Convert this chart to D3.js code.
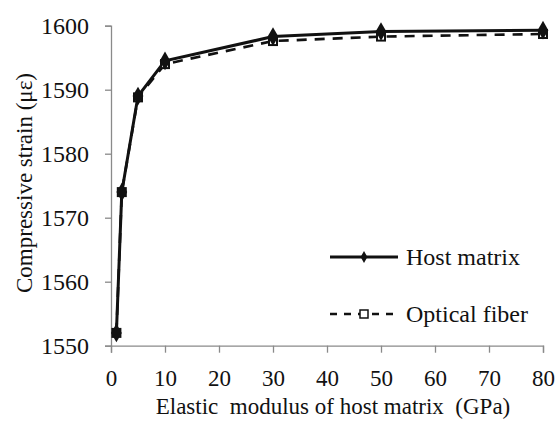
<!DOCTYPE html>
<html><head><meta charset="utf-8">
<script src="https://cdn.jsdelivr.net/npm/d3@7"></script>
<style>body{margin:0;background:#fff}svg{display:block}</style>
</head><body>
<svg id="c" width="556" height="422"></svg>
<script>
const xValues = [1, 2, 5, 10, 30, 50, 80];
const hostMatrix = [1552, 1574, 1589, 1594.5, 1598.3, 1599.1, 1599.3];
const opticalFiber = [1552, 1574, 1588.8, 1594, 1597.6, 1598.3, 1598.7];
const xTicks = [0, 10, 20, 30, 40, 50, 60, 70, 80];
const yTicks = [1550, 1560, 1570, 1580, 1590, 1600];
const seriesNames = ["Host matrix", "Optical fiber"];

const svg = d3.select("#c");
const x = d3.scaleLinear().domain([0, 80]).range([111, 543]);
const y = d3.scaleLinear().domain([1550, 1600]).range([345.7, 25.7]);
const axisColor = "#8a8a8a";

function styleText(sel, size) {
  sel.attr("font-family", "Liberation Serif").style("font-family", "'Liberation Serif'")
     .style("font-size", size + "px").attr("fill", "#111");
}

// y axis
const ya = svg.append("g").attr("transform", "translate(111,0)")
  .call(d3.axisLeft(y).tickValues(yTicks).tickSize(6).tickPadding(16).tickFormat(d3.format("d")));
ya.attr("font-family", "Liberation Serif");
ya.select(".domain").attr("stroke", axisColor).attr("stroke-width", 1.3);
ya.selectAll(".tick line").attr("stroke", axisColor).attr("stroke-width", 1.3);
styleText(ya.selectAll("text"), 24);
ya.selectAll("text").attr("dy", "0.34em");

// x axis
const xa = svg.append("g").attr("transform", "translate(0,345.7)")
  .call(d3.axisBottom(x).tickValues(xTicks).tickSize(7).tickPadding(17));
xa.attr("font-family", "Liberation Serif");
xa.select(".domain").attr("stroke", axisColor).attr("stroke-width", 1.3);
xa.selectAll(".tick line").attr("stroke", axisColor).attr("stroke-width", 1.3);
styleText(xa.selectAll("text"), 23);
xa.selectAll("text").attr("dy", "0.71em");

// titles
styleText(svg.append("text").attr("x", 333).attr("y", 414).attr("text-anchor", "middle")
  .attr("xml:space", "preserve").style("white-space", "pre")
  .text("Elastic  modulus of host matrix  (GPa)"), 23);
styleText(svg.append("text").attr("transform", "translate(32,183) rotate(-90)").attr("text-anchor", "middle")
  .text("Compressive strain (με)"), 23);

const line = d3.line().x((d, i) => x(xValues[i])).y(d => y(d));

svg.append("path").datum(opticalFiber).attr("d", line).attr("fill", "none")
  .attr("stroke", "#111").attr("stroke-width", 2.6).attr("stroke-dasharray", "10,8");
svg.append("path").datum(hostMatrix).attr("d", line).attr("fill", "none")
  .attr("stroke", "#111").attr("stroke-width", 3);

svg.append("g").selectAll("rect").data(opticalFiber).join("rect")
  .attr("x", (d, i) => x(xValues[i]) - 4).attr("y", d => y(d) - 4)
  .attr("width", 8).attr("height", 8).attr("fill", "#fff").attr("stroke", "#111").attr("stroke-width", 2);
const diamond = d3.symbol().type(d3.symbolDiamond).size(100);
svg.append("g").selectAll("path").data(hostMatrix).join("path")
  .attr("transform", (d, i) => `translate(${x(xValues[i])},${y(d)})`)
  .attr("d", diamond).attr("fill", "#111");

// legend
const lg = svg.append("g");
const ly = [257, 314];
lg.append("line").attr("x1", 330).attr("x2", 398).attr("y1", ly[0]).attr("y2", ly[0])
  .attr("stroke", "#111").attr("stroke-width", 3);
lg.append("path").attr("transform", `translate(364,${ly[0]})`).attr("d", d3.symbol().type(d3.symbolDiamond).size(40)).attr("fill", "#111");
lg.append("line").attr("x1", 330).attr("x2", 398).attr("y1", ly[1]).attr("y2", ly[1])
  .attr("stroke", "#111").attr("stroke-width", 2.6).attr("stroke-dasharray", "7,7");
lg.append("rect").attr("x", 360).attr("y", ly[1] - 4).attr("width", 8).attr("height", 8)
  .attr("fill", "#fff").attr("stroke", "#111").attr("stroke-width", 1.5);
seriesNames.forEach((n, i) => {
  styleText(lg.append("text").attr("x", 406).attr("y", ly[i]).attr("dy", "0.34em").text(n), 24);
});
</script>
</body></html>
